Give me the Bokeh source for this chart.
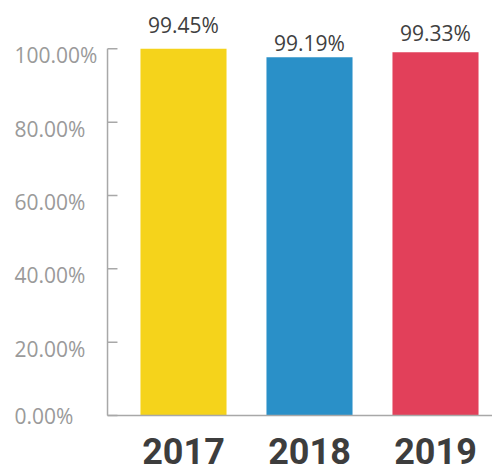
from bokeh.plotting import figure
from bokeh.models import Range1d, ColumnDataSource
from bokeh.core.properties import value
from bokeh.embed import file_html
from bokeh.resources import INLINE

# ---- data ----
years = ["2017", "2018", "2019"]
rates = [99.45, 99.19, 99.33]            # labelled values (%)
bar_heights = [100.0, 97.7, 99.05]        # drawn bar heights read against the axis (%)
colors = ["#F5D31B", "#2A90C8", "#E2405A"]
y_ticks = [0, 20, 40, 60, 80, 100]
y_tick_labels = ["0.00%", "20.00%", "40.00%", "60.00%", "80.00%", "100.00%"]

W, H = 492, 473
X0 = -183 / 126.0
X1 = X0 + W / 126.0
Y1 = 100 + 48.3 / 3.667
Y0 = Y1 - H / 3.667
L1 = 99.45 + 24.5 / 67.7
L0 = L1 - H / 67.7

p = figure(width=W, height=H, output_backend="svg", toolbar_location=None,
           x_range=Range1d(X0, X1), y_range=Range1d(Y0, Y1),
           min_border=0, outline_line_color=None, background_fill_color="white",
           border_fill_color="white")
p.axis.visible = False
p.grid.visible = False
p.extra_y_ranges = {"labels": Range1d(L0, L1)}

xs = list(range(len(years)))
src = ColumnDataSource(dict(x=xs, top=bar_heights, color=colors, rate=rates,
                            label=[f"{r:.2f}%" for r in rates], year=years,
                            year_y=[-9.8] * len(years)))

# bars
p.vbar(x="x", top="top", bottom=0, width=0.683, color="color", line_color=None, source=src)

# axes drawn manually
axis_x = -0.603
tick_end = -0.524
axis_color = "#A8A8A8"
p.segment(x0=[axis_x], y0=[0], x1=[axis_x], y1=[max(y_ticks)], line_color=axis_color, line_width=1.5)
p.segment(x0=[axis_x], y0=[0], x1=[X1], y1=[0], line_color=axis_color, line_width=1.5)
p.segment(x0=[axis_x] * len(y_ticks), y0=y_ticks, x1=[tick_end] * len(y_ticks), y1=y_ticks,
          line_color=axis_color, line_width=1.5)

# tick labels (left aligned, sitting just below each tick)
tl_y = [t - 1.8 if t > 0 else t - 0.2 for t in y_ticks]
p.text(x=[-1.341] * len(y_ticks), y=tl_y, text=y_tick_labels, text_align="left",
       text_baseline="middle", text_font=value("Open Sans"), text_font_size="21px",
       text_color="#9A9A9A")

# value labels
p.text(x="x", y="rate", text="label", source=src, y_range_name="labels",
       text_align="center", text_baseline="alphabetic", text_font=value("Open Sans"),
       text_font_size="21px", text_color="#404040")

# year labels
p.text(x="x", y="year_y", text="year", source=src, text_align="center",
       text_baseline="alphabetic", text_font=value("Roboto"),
       text_font_style="bold", text_font_size="36px", text_color="#3D3D3D")

open("out.html", "w").write(file_html(p, INLINE))
